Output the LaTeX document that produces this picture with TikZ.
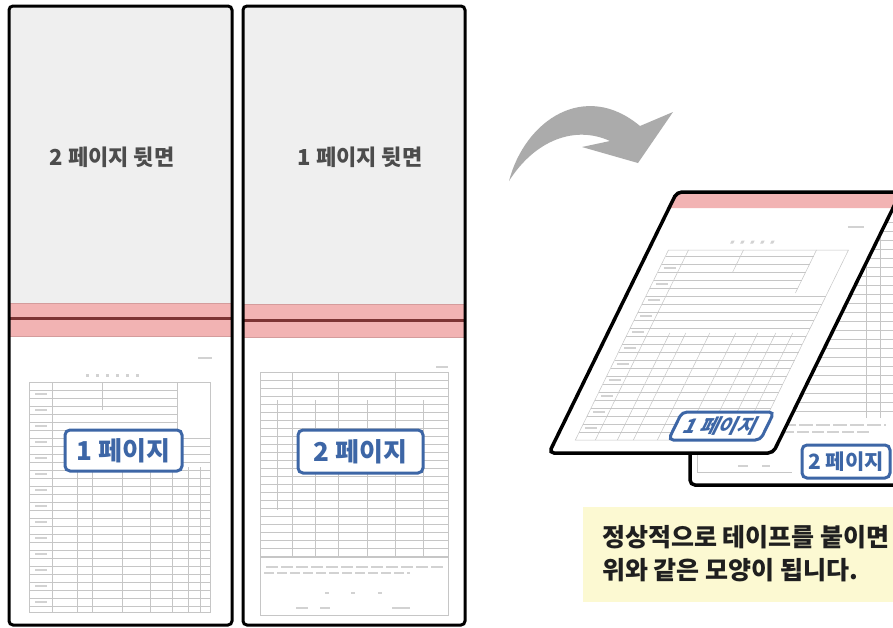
\documentclass[tikz,border=0pt]{standalone}
\usepackage{fontspec}
\newfontfamily\kr{Noto Sans CJK KR}
\definecolor{panelgray}{HTML}{EFEFEF}
\definecolor{tapepink}{HTML}{F2B3B3}
\definecolor{tapeedge}{HTML}{D49C9C}
\definecolor{tapedark}{HTML}{7D3434}
\definecolor{bluec}{HTML}{3D66A6}
\definecolor{arrowgray}{HTML}{ABABAB}
\definecolor{capyellow}{HTML}{FCF9D2}
\definecolor{formgray}{HTML}{C6C6C6}
\definecolor{blobgray}{HTML}{D2D2D2}
\tikzset{
  panelborder/.style={draw=black, line width=3pt, rounded corners=4pt},
  formline/.style={draw=formgray, line width=0.5pt},
  blob/.style={draw=blobgray, line width=1.6pt},
  pagebox/.style={draw=bluec, line width=3pt, rounded corners=5pt, fill=white, text=bluec, inner sep=0pt},
  backlabel/.style={text=black!70, font=\kr\bfseries\fontsize{22}{22}\selectfont},
  tape/.style={fill=tapepink, draw=tapeedge, line width=0.6pt},
  tapeline/.style={draw=tapedark, line width=3pt},
}
\begin{document}
\begin{tikzpicture}[x=1pt,y=-1pt]
\useasboundingbox (0,0) rectangle (893,627);
\clip (0,0) rectangle (893,627);
\fill[white] (0,0) rectangle (893,627);

% ---------- Panel A ----------
\begin{scope}
  \clip[rounded corners=4pt] (9,6) rectangle (232,625);
  \fill[panelgray] (9,6) rectangle (232,303);
  \draw[tape] (9,303) rectangle (232,336);
  \draw[tapeline] (9,318) -- (232,318);
\end{scope}
% form A
\draw[formline] (29,382) rectangle (210,612);
\foreach \y in {390,398,...,430} \draw[formline] (29,\y) -- (177,\y);
\foreach \y in {438,446,...,606} \draw[formline] (29,\y) -- (210,\y);
\draw[formline] (52,382) -- (52,612);
\draw[formline] (177,382) -- (177,433);
\draw[formline] (102,382) -- (102,410);
\foreach \x in {77,92,122,150,172,188,200} \draw[formline] (\x,467) -- (\x,612);
\foreach \x in {87,97,...,137} \fill[blobgray] (\x-1.5,373.5) rectangle (\x+1.5,376.5);
\draw[blob] (198,358) -- (212,358);
\foreach \y in {394,410,426,442,458,474,490,506,522,538,554,570,586,602} \draw[blob, line width=1.2pt] (35,\y) -- (47,\y);
\draw[panelborder] (9,6) rectangle (232,625);
\node[backlabel] (backA) at (112,157) {2 페이지 뒷면};
\node[pagebox, minimum width=117pt, minimum height=41pt, font=\kr\bfseries\fontsize{26}{26}\selectfont] (pA) at (123.5,450.5) {1 페이지};

% ---------- Panel B ----------
\begin{scope}
  \clip[rounded corners=4pt] (243,6) rectangle (465,625);
  \fill[panelgray] (243,6) rectangle (465,304);
  \draw[tape] (243,304) rectangle (465,337);
  \draw[tapeline] (243,320) -- (465,320);
\end{scope}
% form B
\draw[formline] (260,372) rectangle (448,615);
\foreach \y in {380,388,...,556} \draw[formline] (260,\y) -- (448,\y);
\draw[formline] (260,557) -- (448,557);
\foreach \x in {292,338,395} \draw[formline] (\x,372) -- (\x,557);
\draw[formline] (277,400) -- (277,510);
\foreach \x in {315,367,423} \draw[formline] (\x,400) -- (\x,557);
\draw[blob] (436,367) -- (448,367);
\draw[blob, line width=1.2pt, dash pattern=on 12pt off 3pt] (266,567) -- (444,567);
\draw[blob, line width=1.2pt, dash pattern=on 10pt off 3pt] (264,573) -- (410,573);
\foreach \x in {327,353,380} \draw[blob] (\x-2,593) -- (\x+2,593);
\draw[blob] (296,608) -- (308,608);
\draw[blob] (320,608) -- (330,608);
\draw[blob] (392,608) -- (410,608);
\draw[panelborder] (243,6) rectangle (465,625);
\node[backlabel] (backB) at (360,157) {1 페이지 뒷면};
\node[pagebox, minimum width=125pt, minimum height=43pt, font=\kr\bfseries\fontsize{26}{26}\selectfont] (pB) at (360.5,451.5) {2 페이지};

% ---------- curved arrow ----------
\fill[arrowgray] (509,181) .. controls (525,120) and (585,80) .. (640,126)
  -- (673,112) -- (638,163) -- (582,147) -- (610,141)
  .. controls (575,125) and (535,140) .. (509,181) -- cycle;

% ---------- back page (page 2) ----------
\fill[white] (690,200) rectangle (900,485);
\foreach \y in {222,231,...,411} \draw[formline] (700,\y) -- (893,\y);
\foreach \x in {866,880} \draw[formline] (\x,215) -- (\x,418);
\draw[blob, line width=1.2pt, dash pattern=on 14pt off 3pt] (782,425) -- (886,425);
\draw[blob, line width=1.2pt, dash pattern=on 12pt off 3pt] (782,432) -- (870,432);
\draw[formline] (697,440) -- (697,472) -- (792,472);
\draw[blob] (738,466) -- (748,466);
\draw[blob] (762,466) -- (770,466);
\draw[line width=3.5pt, rounded corners=5pt] (900,485) -- (690,485) -- (690,400);
\node[pagebox, minimum width=88pt, minimum height=33pt, font=\kr\bfseries\fontsize{21}{21}\selectfont] (pR2) at (846,461.5) {2 페이지};

% ---------- front page (page 1), slanted ----------
\begin{scope}[shift={(549,453)}, cm={1,0,0.49,1,(0,0)}, y=1pt]
  \fill[white, rounded corners=5pt] (0,0) -- (224,0) -- (224,261) -- (0,261) -- cycle;
  \begin{scope}
    \clip[rounded corners=5pt] (0,0) -- (224,0) -- (224,261) -- (0,261) -- cycle;
    \fill[tapepink] (0,245) rectangle (224,262);
  \end{scope}
  \draw[formline] (20,13) rectangle (200,203);
  \foreach \h in {21,29,...,157} \draw[formline] (20,\h) -- (200,\h);
  \foreach \h in {165,173,...,197} \draw[formline] (20,\h) -- (168,\h);
  \draw[formline] (168,160) -- (168,203);
  \draw[formline] (40,13) -- (40,203);
  \draw[formline] (95,181) -- (95,203);
  \foreach \u in {62,78,102,128,150,168,185} \draw[formline] (\u,13) -- (\u,120);
  \foreach \u in {80,90,...,125} \fill[blobgray] (\u-1.5,209.5) rectangle (\u+1.5,212.5);
  \draw[blob] (188,226) -- (204,226);
  \foreach \h in {25,41,57,73,89,105,121,137,153,169,185} \draw[blob, line width=1.2pt] (24,\h) -- (36,\h);
  \node[pagebox, transform shape, minimum width=92pt, minimum height=28pt, font=\kr\bfseries\fontsize{20}{20}\selectfont] (pR1) at (159,27) {1 페이지};
  \draw[line width=3.5pt, rounded corners=5pt] (0,0) -- (224,0) -- (224,261) -- (0,261) -- cycle;
\end{scope}

% ---------- caption ----------
\fill[capyellow] (583,507) rectangle (893,602);
\node[anchor=west, inner sep=0pt, text=black!88, font=\kr\bfseries\fontsize{25}{25}\selectfont] (cap1) at (602,537) {정상적으로 테이프를 붙이면};
\node[anchor=west, inner sep=0pt, text=black!88, font=\kr\bfseries\fontsize{25}{25}\selectfont] (cap2) at (602,570) {위와 같은 모양이 됩니다.};
\end{tikzpicture}
\end{document}
